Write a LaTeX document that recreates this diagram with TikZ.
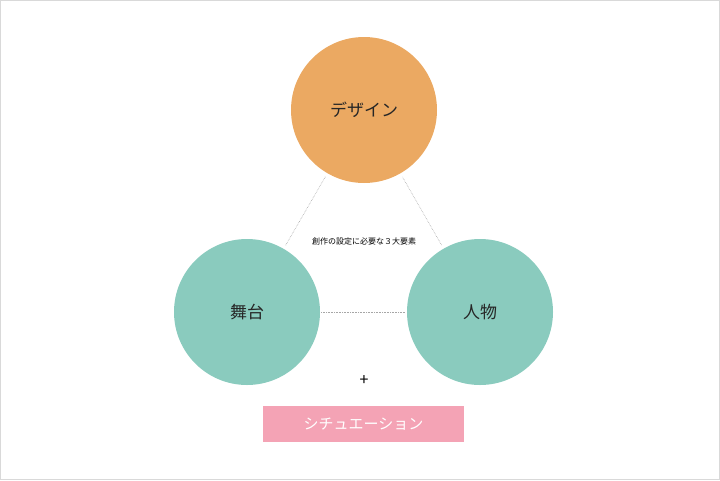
\documentclass[tikz,border=0pt]{standalone}
\usepackage{fontspec}
\setmainfont{Noto Sans CJK JP}
\definecolor{orangec}{HTML}{EBA962}
\definecolor{tealc}{HTML}{8ACBBE}
\definecolor{pinkc}{HTML}{F4A3B5}
\begin{document}
\begin{tikzpicture}[x=1pt,y=-1pt,
  circ/.style={circle,minimum size=146pt,inner sep=0pt,font=\fontsize{17}{17}\selectfont,text=black!85},
  dotline/.style={gray!70,densely dotted,line width=0.6pt,shorten >=4pt,shorten <=4pt}]
\useasboundingbox (0,0) rectangle (720,480);
\draw[gray!30] (0.5,0.5) rectangle (719.5,479.5);
\node[circ,fill=orangec] (d) at (364,110) {デザイン};
\node[circ,fill=tealc] (s) at (247,312) {舞台};
\node[circ,fill=tealc] (j) at (480,312) {人物};
\draw[dotline] (s) -- (d);
\draw[dotline] (j) -- (d);
\draw[dotline,shorten >=1pt,shorten <=1pt] (s) -- (j);
\node[font=\fontsize{8}{8}\selectfont] (lab) at (364,241) {創作の設定に必要な３大要素};
\node[font=\fontsize{16}{16}\selectfont] (plus) at (364,381) {+};
\node[fill=pinkc,minimum width=201pt,minimum height=36pt,inner sep=0pt,text=white,font=\fontsize{15}{15}\selectfont] (sit) at (363.5,424) {シチュエーション};
\end{tikzpicture}
\end{document}
